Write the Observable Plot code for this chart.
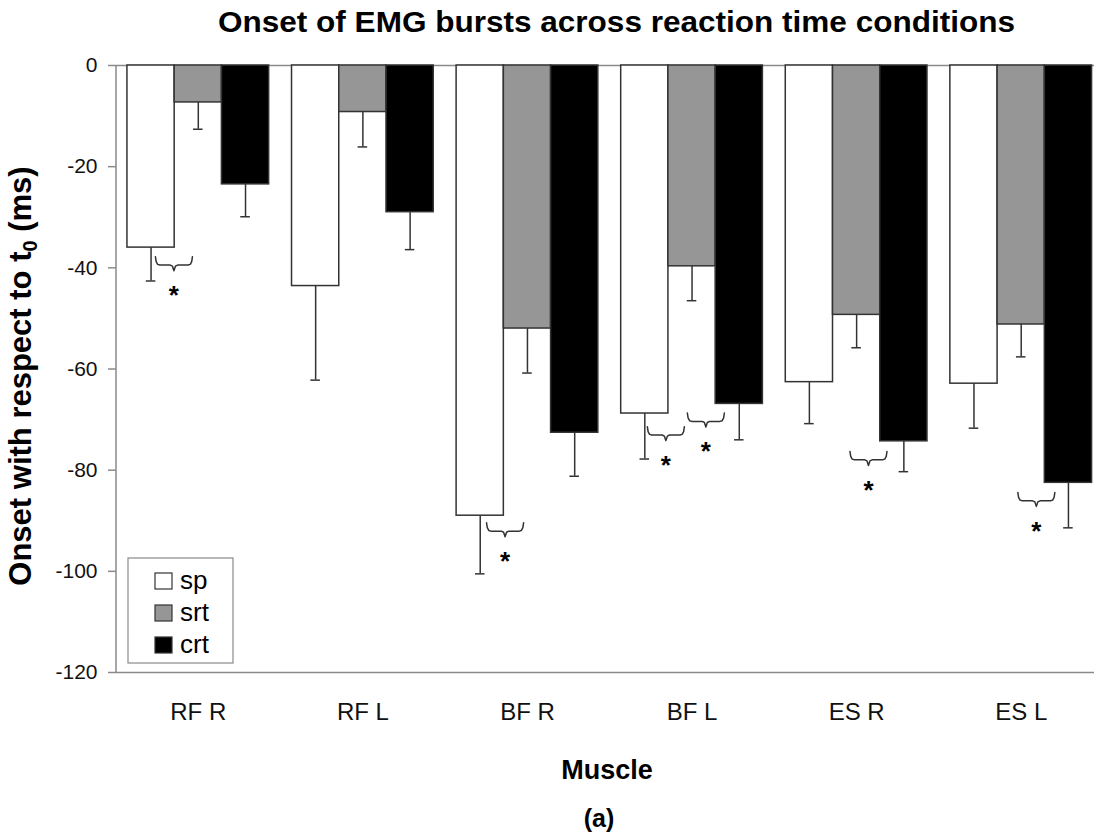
<!DOCTYPE html>
<html><head><meta charset="utf-8">
<script src="https://cdn.jsdelivr.net/npm/d3@7"></script>
<script src="https://cdn.jsdelivr.net/npm/@observablehq/plot@0.6"></script>
<style>
body{margin:0;background:#fff;}
svg{font-family:"Liberation Sans",Arial,sans-serif;}
</style>
</head><body><div id="chart"></div>
<script>
// ---- data ----
const muscles = ["RF R","RF L","BF R","BF L","ES R","ES L"];
const conditions = ["sp","srt","crt"];
const condColors = ["#ffffff","#969696","#000000"];
const spMean  = [-36.0,-43.6,-89.0,-68.8,-62.6,-62.9];
const srtMean = [-7.3,-9.2,-52.0,-39.7,-49.3,-51.2];
const crtMean = [-23.5,-29.0,-72.6,-66.9,-74.3,-82.5];
const spErr  = [6.6,18.6,11.5,9.0,8.2,8.8];
const srtErr = [5.3,6.9,8.8,6.8,6.5,6.4];
const crtErr = [6.4,7.4,8.6,7.1,6.0,8.9];
const yTicks = [0,-20,-40,-60,-80,-100,-120];
// significance markers: muscle, horizontal offset within group, top of brace
const sigMuscle = ["RF R","BF R","BF L","BF L","ES R","ES L"];
const sigOffset = [-0.148,-0.136,-0.159,0.084,0.072,0.092];
const sigTop    = [-37.8,-90.4,-71.4,-68.7,-76.3,-84.4];

// ---- build tables ----
const BW = 0.287;      // bar width (band units)
const CAP = 0.029;     // error cap half width
const means = [spMean, srtMean, crtMean];
const errs = [spErr, srtErr, crtErr];
const rows = [];
muscles.forEach((m, i) => conditions.forEach((c, j) => {
  rows.push({muscle: m, cond: c, value: means[j][i], err: errs[j][i], xc: i + (j - 1) * BW});
}));
const sigs = sigMuscle.map((m, k) => ({x: muscles.indexOf(m) + sigOffset[k], top: sigTop[k], id: k}));
const BRACE_W = 0.225, BRACE_D = 2.76, STAR_GAP = 6.5;
const braceShape = [[0,0],[0.02,0.35],[0.06,0.55],[0.12,0.6],[0.40,0.6],[0.46,0.68],[0.5,1],[0.54,0.68],[0.60,0.6],[0.88,0.6],[0.94,0.55],[0.98,0.35],[1,0]];
const bracePts = sigs.flatMap(s => braceShape.map(([u, v]) => ({
  x: s.x - BRACE_W / 2 + u * BRACE_W, y: s.top - v * BRACE_D, id: s.id
})));

const plot = Plot.plot({
  width: 1094, height: 835,
  marginTop: 65, marginBottom: 163, marginLeft: 116, marginRight: 0,
  style: {fontFamily: '"Liberation Sans", Arial, sans-serif', background: "#fff", overflow: "hidden"},
  x: {type: "linear", domain: [-0.5, 5.5], range: [115.5, 1103], axis: null},
  y: {domain: [-120, 0], range: [672, 65], axis: null},
  color: {domain: conditions, range: condColors},
  marks: [
    Plot.ruleY([0, -120], {stroke: "#8a8a8a", strokeWidth: 1.5}),
    Plot.ruleX([-0.5], {y1: -120, y2: 0, stroke: "#8a8a8a", strokeWidth: 1.5}),
    Plot.axisY({ticks: yTicks, tickSize: 8, tickPadding: 11, fontSize: 21, stroke: "#8a8a8a", fill: "#111", strokeWidth: 1.5, label: null, tickFormat: d => d < 0 ? "-" + Math.abs(d) : d}),
    Plot.axisX({ticks: d3.range(muscles.length), tickFormat: i => muscles[i], tickSize: 0, tickPadding: 30, fontSize: 24, fill: "#111", label: null}),
    Plot.rectY(rows, {x1: d => d.xc - BW / 2, x2: d => d.xc + BW / 2, y1: 0, y2: "value", fill: "cond", stroke: "#333", strokeWidth: 1.5}),
    Plot.ruleX(rows, {x: "xc", y1: "value", y2: d => d.value - d.err, stroke: "#333", strokeWidth: 1.5}),
    Plot.ruleY(rows, {y: d => d.value - d.err, x1: d => d.xc - CAP, x2: d => d.xc + CAP, stroke: "#333", strokeWidth: 1.5}),
    Plot.line(bracePts, {x: "x", y: "y", z: "id", stroke: "#333", strokeWidth: 1.5}),
    Plot.text(sigs, {x: "x", y: d => d.top - STAR_GAP, text: () => "*", fontSize: 26, fontWeight: "bold", dy: 6, fill: "#000"})
  ]
});
document.getElementById("chart").appendChild(plot);

// ---- titles & legend ----
const svg = d3.select(plot);
svg.append("text").attr("x", 616.5).attr("y", 32).attr("text-anchor", "middle")
  .attr("font-size", 29).attr("font-weight", "bold").attr("fill", "#000")
  .attr("textLength", 797).attr("lengthAdjust", "spacingAndGlyphs")
  .text("Onset of EMG bursts across reaction time conditions");
const yl = svg.append("text").attr("transform", "translate(31,376) rotate(-90)")
  .attr("text-anchor", "middle").attr("font-size", 31).attr("font-weight", "bold").attr("fill", "#000");
yl.append("tspan").text("Onset with respect to t");
yl.append("tspan").attr("font-size", 20).attr("dy", 6).text("0");
yl.append("tspan").attr("dy", -6).text(" (ms)");
svg.append("text").attr("x", 607).attr("y", 779).attr("text-anchor", "middle")
  .attr("font-size", 27).attr("font-weight", "bold").attr("fill", "#000").text("Muscle");
svg.append("text").attr("x", 599).attr("y", 827).attr("text-anchor", "middle")
  .attr("font-size", 25).attr("font-weight", "bold").attr("fill", "#000").text("(a)");
const lg = svg.append("g").attr("text-anchor", "start");
lg.append("rect").attr("x", 128).attr("y", 558).attr("width", 105).attr("height", 105)
  .attr("fill", "#fff").attr("stroke", "#8a8a8a").attr("stroke-width", 1.2);
conditions.forEach((c, j) => {
  const cy = 581 + j * 32;
  lg.append("rect").attr("x", 155).attr("y", cy - 8).attr("width", 17).attr("height", 16)
    .attr("fill", condColors[j]).attr("stroke", "#333").attr("stroke-width", 1.2);
  lg.append("text").attr("x", 180).attr("y", cy + 8).attr("text-anchor", "start")
    .attr("font-size", 26).attr("fill", "#000").text(c);
});
</script>
</body></html>
